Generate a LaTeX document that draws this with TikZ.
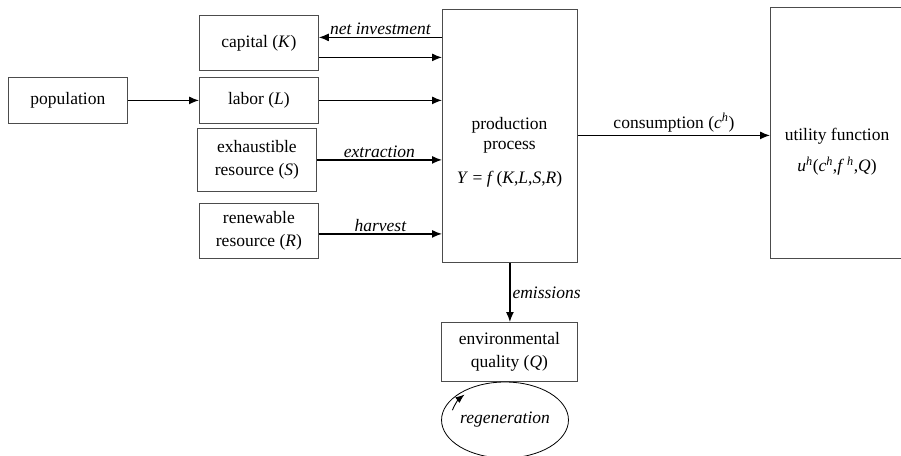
\documentclass[tikz,border=0pt]{standalone}
\usepackage{fontspec}
\setmainfont{Liberation Serif}
\usetikzlibrary{arrows.meta,shapes.geometric}
\newcommand{\basefont}{\fontsize{17.5}{23}\selectfont}
\tikzset{
  box/.style={draw=black!70, line width=0.8pt, inner sep=0pt, anchor=north west, align=center},
  arr/.style={line width=1.3pt, -{Latex[length=10pt,width=8pt]}},
  lbl/.style={inner sep=2pt, font=\basefont\itshape}
}
\begin{document}
\begin{tikzpicture}[x=1pt,y=1pt,font=\basefont]
\useasboundingbox (0,0) rectangle (901,-455);
\clip (0,0) rectangle (901,-455);
% boxes
\node[box, minimum width=119pt, minimum height=55pt] (cap) at (199,-15) {capital (\textit{K})};
\node[box, minimum width=119pt, minimum height=46pt] (lab) at (199,-77) {labor (\textit{L})};
\node[box, minimum width=119pt, minimum height=63pt] (exh) at (197,-128) {exhaustible\\resource (\textit{S})};
\node[box, minimum width=119pt, minimum height=55pt] (ren) at (199,-203) {renewable\\resource (\textit{R})};
\node[box, minimum width=119pt, minimum height=46pt] (pop) at (8,-77) {population};
\node[box, minimum width=135pt, minimum height=253pt] (prod) at (442,-9) {};
\node[align=center, font=\fontsize{17.5}{20}\selectfont] (prodtxt) at (509.5,-152) {production\\process\\[14pt]\textit{Y} = \textit{f}\,(\textit{K},\textit{L},\textit{S},\textit{R})};
\node[box, minimum width=134pt, minimum height=251pt] (util) at (770,-7) {};
\node[align=center] (utiltxt) at (837,-152) {utility function\\[8pt]\textit{u}\textsuperscript{\textit{h}}(\textit{c}\textsuperscript{\textit{h}},\textit{f}\,\textsuperscript{\textit{h}},\textit{Q})};
\node[box, minimum width=136pt, minimum height=59pt] (env) at (441,-322) {environmental\\quality (\textit{Q})};
\node[draw=black, line width=0.8pt, ellipse, inner sep=0pt, minimum width=109pt, minimum height=76pt] (reg) at (505,-420) {\textit{regeneration}};
% coordinates for connector heights
\coordinate (ni) at ([yshift=5.5pt]cap.east);
\coordinate (ki) at ([yshift=-14.5pt]cap.east);
\coordinate (ha) at ([yshift=-3pt]ren.east);
\coordinate (co) at ([yshift=0.5pt]prod.east);
% connectors
\draw[arr] (prod.west |- ni) -- node[lbl, above] {net investment} (ni);
\draw[arr] (ki) -- (prod.west |- ki);
\draw[arr] (pop.east) -- (lab.west);
\draw[arr] (lab.east) -- (prod.west |- lab.east);
\draw[arr] (exh.east) -- node[lbl, above] {extraction} (prod.west |- exh.east);
\draw[arr] (ha) -- node[lbl, above] {harvest} (prod.west |- ha);
\draw[arr] (co) -- node[above, inner sep=3pt] {consumption (\textit{c}\textsuperscript{\textit{h}})} (util.west |- co);
\coordinate (em) at ([xshift=0pt]prod.south);
\draw[arr] (em) -- node[lbl, right] {emissions} (env.north -| em);
\draw[line width=0.9pt, -{Latex[length=9pt,width=7pt]}] (reg.center) ++(165:54.5 and 38) arc[start angle=165, end angle=138, x radius=54.5, y radius=38];
\end{tikzpicture}
\end{document}
